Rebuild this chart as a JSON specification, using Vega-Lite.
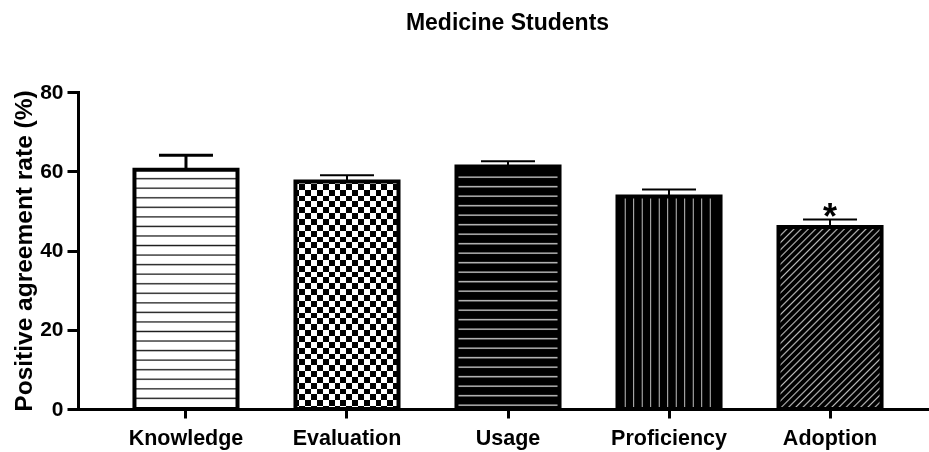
{
  "$schema": "https://vega.github.io/schema/vega-lite/v6.json",
  "width": 849,
  "height": 317,
  "autosize": {"type": "none"},
  "padding": {"left": 78, "top": 92, "right": 2, "bottom": 43},
  "background": "white",
  "config": {"view": {"stroke": null}, "font": "Liberation Sans"},
  "title": {
    "text": "Medicine Students",
    "font": "Liberation Sans",
    "fontSize": 23,
    "fontWeight": "bold",
    "color": "black",
    "anchor": "middle",
    "dx": 5,
    "offset": 46
  },
  "data": {
    "values": [
      {"aspect": "Knowledge", "rate": 60.4, "upper": 64.05, "sig": ""},
      {"aspect": "Evaluation", "rate": 57.4, "upper": 59.0, "sig": ""},
      {"aspect": "Usage", "rate": 61.2, "upper": 62.5, "sig": ""},
      {"aspect": "Proficiency", "rate": 53.6, "upper": 55.4, "sig": ""},
      {"aspect": "Adoption", "rate": 45.9, "upper": 47.8, "sig": "*"}
    ]
  },
  "encoding": {
    "x": {
      "field": "aspect",
      "type": "nominal",
      "sort": null,
      "scale": {"paddingInner": 0.36, "paddingOuter": 0.3165, "align": 0.554},
      "axis": {
        "title": null,
        "labelAngle": 0,
        "labelFont": "Liberation Sans",
        "labelFontSize": 21.5,
        "labelFontWeight": "bold",
        "labelColor": "black",
        "labelPadding": 9,
        "domainColor": "black",
        "domainWidth": 3,
        "domainCap": "square",
        "tickColor": "black",
        "tickWidth": 3,
        "tickSize": 9
      }
    },
    "y": {
      "field": "rate",
      "type": "quantitative",
      "title": "Positive agreement rate (%)",
      "scale": {"domain": [0, 80], "nice": false, "zero": true},
      "axis": {
        "values": [0, 20, 40, 60, 80],
        "grid": false,
        "labelFont": "Liberation Sans",
        "labelFontSize": 21,
        "labelFontWeight": "bold",
        "labelColor": "black",
        "labelPadding": 4,
        "labelFlush": false,
        "labelOverlap": false,
        "domainColor": "black",
        "domainWidth": 3,
        "domainCap": "square",
        "tickColor": "black",
        "tickWidth": 3,
        "tickSize": 11,
        "titleFont": "Liberation Sans",
        "titleFontSize": 24.5,
        "titleFontWeight": "bold",
        "titleColor": "black",
        "titleX": -47,
        "titleY": 158.5,
        "titleAlign": "center",
        "titleBaseline": "alphabetic"
      }
    }
  },
  "layer": [
    {
      "transform": [{"filter": "datum.aspect === 'Knowledge'"}],
      "mark": {
        "type": "bar",
        "stroke": "black",
        "strokeWidth": 4,
        "fill": {
          "gradient": "linear", "x1": 0, "y1": 0, "x2": 0, "y2": 1,
          "stops": [
            {"offset": 0.0321, "color": "#fff"}, {"offset": 0.0376, "color": "#1a1a1a"}, {"offset": 0.0431, "color": "#fff"},
            {"offset": 0.0720, "color": "#fff"}, {"offset": 0.0775, "color": "#1a1a1a"}, {"offset": 0.0830, "color": "#fff"},
            {"offset": 0.1119, "color": "#fff"}, {"offset": 0.1174, "color": "#1a1a1a"}, {"offset": 0.1229, "color": "#fff"},
            {"offset": 0.1518, "color": "#fff"}, {"offset": 0.1573, "color": "#1a1a1a"}, {"offset": 0.1628, "color": "#fff"},
            {"offset": 0.1917, "color": "#fff"}, {"offset": 0.1972, "color": "#1a1a1a"}, {"offset": 0.2027, "color": "#fff"},
            {"offset": 0.2316, "color": "#fff"}, {"offset": 0.2371, "color": "#1a1a1a"}, {"offset": 0.2426, "color": "#fff"},
            {"offset": 0.2715, "color": "#fff"}, {"offset": 0.2770, "color": "#1a1a1a"}, {"offset": 0.2825, "color": "#fff"},
            {"offset": 0.3115, "color": "#fff"}, {"offset": 0.3170, "color": "#1a1a1a"}, {"offset": 0.3225, "color": "#fff"},
            {"offset": 0.3514, "color": "#fff"}, {"offset": 0.3569, "color": "#1a1a1a"}, {"offset": 0.3624, "color": "#fff"},
            {"offset": 0.3913, "color": "#fff"}, {"offset": 0.3968, "color": "#1a1a1a"}, {"offset": 0.4023, "color": "#fff"},
            {"offset": 0.4312, "color": "#fff"}, {"offset": 0.4367, "color": "#1a1a1a"}, {"offset": 0.4422, "color": "#fff"},
            {"offset": 0.4711, "color": "#fff"}, {"offset": 0.4766, "color": "#1a1a1a"}, {"offset": 0.4821, "color": "#fff"},
            {"offset": 0.5110, "color": "#fff"}, {"offset": 0.5165, "color": "#1a1a1a"}, {"offset": 0.5220, "color": "#fff"},
            {"offset": 0.5509, "color": "#fff"}, {"offset": 0.5564, "color": "#1a1a1a"}, {"offset": 0.5619, "color": "#fff"},
            {"offset": 0.5908, "color": "#fff"}, {"offset": 0.5963, "color": "#1a1a1a"}, {"offset": 0.6018, "color": "#fff"},
            {"offset": 0.6307, "color": "#fff"}, {"offset": 0.6362, "color": "#1a1a1a"}, {"offset": 0.6417, "color": "#fff"},
            {"offset": 0.6706, "color": "#fff"}, {"offset": 0.6761, "color": "#1a1a1a"}, {"offset": 0.6816, "color": "#fff"},
            {"offset": 0.7105, "color": "#fff"}, {"offset": 0.7160, "color": "#1a1a1a"}, {"offset": 0.7215, "color": "#fff"},
            {"offset": 0.7504, "color": "#fff"}, {"offset": 0.7559, "color": "#1a1a1a"}, {"offset": 0.7614, "color": "#fff"},
            {"offset": 0.7904, "color": "#fff"}, {"offset": 0.7959, "color": "#1a1a1a"}, {"offset": 0.8014, "color": "#fff"},
            {"offset": 0.8303, "color": "#fff"}, {"offset": 0.8358, "color": "#1a1a1a"}, {"offset": 0.8413, "color": "#fff"},
            {"offset": 0.8702, "color": "#fff"}, {"offset": 0.8757, "color": "#1a1a1a"}, {"offset": 0.8812, "color": "#fff"},
            {"offset": 0.9101, "color": "#fff"}, {"offset": 0.9156, "color": "#1a1a1a"}, {"offset": 0.9211, "color": "#fff"},
            {"offset": 0.9500, "color": "#fff"}, {"offset": 0.9555, "color": "#1a1a1a"}, {"offset": 0.9610, "color": "#fff"}
          ]
        }
      }
    },
    {
      "transform": [{"filter": "datum.aspect === 'Evaluation'"}],
      "mark": {
        "type": "bar",
        "fill": {
          "gradient": "linear", "x1": 0, "y1": 0, "x2": 0, "y2": 1,
          "stops": [
            {"offset": 0.0101, "color": "#000"}, {"offset": 0.0101, "color": "#fff"},
            {"offset": 0.0358, "color": "#fff"}, {"offset": 0.0358, "color": "#000"},
            {"offset": 0.0616, "color": "#000"}, {"offset": 0.0616, "color": "#fff"},
            {"offset": 0.0873, "color": "#fff"}, {"offset": 0.0873, "color": "#000"},
            {"offset": 0.1130, "color": "#000"}, {"offset": 0.1130, "color": "#fff"},
            {"offset": 0.1387, "color": "#fff"}, {"offset": 0.1387, "color": "#000"},
            {"offset": 0.1645, "color": "#000"}, {"offset": 0.1645, "color": "#fff"},
            {"offset": 0.1902, "color": "#fff"}, {"offset": 0.1902, "color": "#000"},
            {"offset": 0.2159, "color": "#000"}, {"offset": 0.2159, "color": "#fff"},
            {"offset": 0.2417, "color": "#fff"}, {"offset": 0.2417, "color": "#000"},
            {"offset": 0.2674, "color": "#000"}, {"offset": 0.2674, "color": "#fff"},
            {"offset": 0.2931, "color": "#fff"}, {"offset": 0.2931, "color": "#000"},
            {"offset": 0.3188, "color": "#000"}, {"offset": 0.3188, "color": "#fff"},
            {"offset": 0.3446, "color": "#fff"}, {"offset": 0.3446, "color": "#000"},
            {"offset": 0.3703, "color": "#000"}, {"offset": 0.3703, "color": "#fff"},
            {"offset": 0.3960, "color": "#fff"}, {"offset": 0.3960, "color": "#000"},
            {"offset": 0.4217, "color": "#000"}, {"offset": 0.4217, "color": "#fff"},
            {"offset": 0.4475, "color": "#fff"}, {"offset": 0.4475, "color": "#000"},
            {"offset": 0.4732, "color": "#000"}, {"offset": 0.4732, "color": "#fff"},
            {"offset": 0.4989, "color": "#fff"}, {"offset": 0.4989, "color": "#000"},
            {"offset": 0.5246, "color": "#000"}, {"offset": 0.5246, "color": "#fff"},
            {"offset": 0.5504, "color": "#fff"}, {"offset": 0.5504, "color": "#000"},
            {"offset": 0.5761, "color": "#000"}, {"offset": 0.5761, "color": "#fff"},
            {"offset": 0.6018, "color": "#fff"}, {"offset": 0.6018, "color": "#000"},
            {"offset": 0.6275, "color": "#000"}, {"offset": 0.6275, "color": "#fff"},
            {"offset": 0.6533, "color": "#fff"}, {"offset": 0.6533, "color": "#000"},
            {"offset": 0.6790, "color": "#000"}, {"offset": 0.6790, "color": "#fff"},
            {"offset": 0.7047, "color": "#fff"}, {"offset": 0.7047, "color": "#000"},
            {"offset": 0.7304, "color": "#000"}, {"offset": 0.7304, "color": "#fff"},
            {"offset": 0.7562, "color": "#fff"}, {"offset": 0.7562, "color": "#000"},
            {"offset": 0.7819, "color": "#000"}, {"offset": 0.7819, "color": "#fff"},
            {"offset": 0.8076, "color": "#fff"}, {"offset": 0.8076, "color": "#000"},
            {"offset": 0.8333, "color": "#000"}, {"offset": 0.8333, "color": "#fff"},
            {"offset": 0.8591, "color": "#fff"}, {"offset": 0.8591, "color": "#000"},
            {"offset": 0.8848, "color": "#000"}, {"offset": 0.8848, "color": "#fff"},
            {"offset": 0.9105, "color": "#fff"}, {"offset": 0.9105, "color": "#000"},
            {"offset": 0.9362, "color": "#000"}, {"offset": 0.9362, "color": "#fff"},
            {"offset": 0.9620, "color": "#fff"}, {"offset": 0.9620, "color": "#000"},
            {"offset": 0.9877, "color": "#000"}, {"offset": 0.9877, "color": "#fff"}
          ]
        }
      }
    },
    {
      "transform": [{"filter": "datum.aspect === 'Evaluation'"}],
      "mark": {
        "type": "bar",
        "blend": "difference",
        "fill": {
          "gradient": "linear", "x1": 0, "y1": 0, "x2": 1, "y2": 0,
          "stops": [
            {"offset": 0.0388, "color": "#000"}, {"offset": 0.0388, "color": "#fff"},
            {"offset": 0.0956, "color": "#fff"}, {"offset": 0.0956, "color": "#000"},
            {"offset": 0.1524, "color": "#000"}, {"offset": 0.1524, "color": "#fff"},
            {"offset": 0.2092, "color": "#fff"}, {"offset": 0.2092, "color": "#000"},
            {"offset": 0.2660, "color": "#000"}, {"offset": 0.2660, "color": "#fff"},
            {"offset": 0.3228, "color": "#fff"}, {"offset": 0.3228, "color": "#000"},
            {"offset": 0.3796, "color": "#000"}, {"offset": 0.3796, "color": "#fff"},
            {"offset": 0.4364, "color": "#fff"}, {"offset": 0.4364, "color": "#000"},
            {"offset": 0.4932, "color": "#000"}, {"offset": 0.4932, "color": "#fff"},
            {"offset": 0.5500, "color": "#fff"}, {"offset": 0.5500, "color": "#000"},
            {"offset": 0.6068, "color": "#000"}, {"offset": 0.6068, "color": "#fff"},
            {"offset": 0.6636, "color": "#fff"}, {"offset": 0.6636, "color": "#000"},
            {"offset": 0.7204, "color": "#000"}, {"offset": 0.7204, "color": "#fff"},
            {"offset": 0.7772, "color": "#fff"}, {"offset": 0.7772, "color": "#000"},
            {"offset": 0.8340, "color": "#000"}, {"offset": 0.8340, "color": "#fff"},
            {"offset": 0.8908, "color": "#fff"}, {"offset": 0.8908, "color": "#000"},
            {"offset": 0.9476, "color": "#000"}, {"offset": 0.9476, "color": "#fff"}
          ]
        }
      }
    },
    {
      "transform": [{"filter": "datum.aspect === 'Evaluation'"}],
      "mark": {"type": "bar", "fill": "transparent", "stroke": "black", "strokeWidth": 4}
    },
    {
      "transform": [{"filter": "datum.aspect === 'Usage'"}],
      "mark": {
        "type": "bar",
        "stroke": "black",
        "strokeWidth": 4,
        "fill": {
          "gradient": "linear", "x1": 0, "y1": 0, "x2": 0, "y2": 1,
          "stops": [
            {"offset": 0.0386, "color": "#000"}, {"offset": 0.0441, "color": "#d0d0d0"}, {"offset": 0.0496, "color": "#000"},
            {"offset": 0.0778, "color": "#000"}, {"offset": 0.0833, "color": "#d0d0d0"}, {"offset": 0.0888, "color": "#000"},
            {"offset": 0.1170, "color": "#000"}, {"offset": 0.1225, "color": "#d0d0d0"}, {"offset": 0.1280, "color": "#000"},
            {"offset": 0.1562, "color": "#000"}, {"offset": 0.1617, "color": "#d0d0d0"}, {"offset": 0.1672, "color": "#000"},
            {"offset": 0.1953, "color": "#000"}, {"offset": 0.2008, "color": "#d0d0d0"}, {"offset": 0.2063, "color": "#000"},
            {"offset": 0.2345, "color": "#000"}, {"offset": 0.2400, "color": "#d0d0d0"}, {"offset": 0.2455, "color": "#000"},
            {"offset": 0.2737, "color": "#000"}, {"offset": 0.2792, "color": "#d0d0d0"}, {"offset": 0.2847, "color": "#000"},
            {"offset": 0.3129, "color": "#000"}, {"offset": 0.3184, "color": "#d0d0d0"}, {"offset": 0.3239, "color": "#000"},
            {"offset": 0.3520, "color": "#000"}, {"offset": 0.3575, "color": "#d0d0d0"}, {"offset": 0.3630, "color": "#000"},
            {"offset": 0.3912, "color": "#000"}, {"offset": 0.3967, "color": "#d0d0d0"}, {"offset": 0.4022, "color": "#000"},
            {"offset": 0.4304, "color": "#000"}, {"offset": 0.4359, "color": "#d0d0d0"}, {"offset": 0.4414, "color": "#000"},
            {"offset": 0.4695, "color": "#000"}, {"offset": 0.4750, "color": "#d0d0d0"}, {"offset": 0.4805, "color": "#000"},
            {"offset": 0.5087, "color": "#000"}, {"offset": 0.5142, "color": "#d0d0d0"}, {"offset": 0.5197, "color": "#000"},
            {"offset": 0.5479, "color": "#000"}, {"offset": 0.5534, "color": "#d0d0d0"}, {"offset": 0.5589, "color": "#000"},
            {"offset": 0.5871, "color": "#000"}, {"offset": 0.5926, "color": "#d0d0d0"}, {"offset": 0.5981, "color": "#000"},
            {"offset": 0.6262, "color": "#000"}, {"offset": 0.6317, "color": "#d0d0d0"}, {"offset": 0.6372, "color": "#000"},
            {"offset": 0.6654, "color": "#000"}, {"offset": 0.6709, "color": "#d0d0d0"}, {"offset": 0.6764, "color": "#000"},
            {"offset": 0.7046, "color": "#000"}, {"offset": 0.7101, "color": "#d0d0d0"}, {"offset": 0.7156, "color": "#000"},
            {"offset": 0.7438, "color": "#000"}, {"offset": 0.7493, "color": "#d0d0d0"}, {"offset": 0.7548, "color": "#000"},
            {"offset": 0.7829, "color": "#000"}, {"offset": 0.7884, "color": "#d0d0d0"}, {"offset": 0.7939, "color": "#000"},
            {"offset": 0.8221, "color": "#000"}, {"offset": 0.8276, "color": "#d0d0d0"}, {"offset": 0.8331, "color": "#000"},
            {"offset": 0.8613, "color": "#000"}, {"offset": 0.8668, "color": "#d0d0d0"}, {"offset": 0.8723, "color": "#000"},
            {"offset": 0.9005, "color": "#000"}, {"offset": 0.9060, "color": "#d0d0d0"}, {"offset": 0.9115, "color": "#000"},
            {"offset": 0.9397, "color": "#000"}, {"offset": 0.9452, "color": "#d0d0d0"}, {"offset": 0.9507, "color": "#000"},
            {"offset": 0.9788, "color": "#000"}, {"offset": 0.9843, "color": "#d0d0d0"}, {"offset": 0.9898, "color": "#000"}
          ]
        }
      }
    },
    {
      "transform": [{"filter": "datum.aspect === 'Proficiency'"}],
      "mark": {
        "type": "bar",
        "stroke": "black",
        "strokeWidth": 4,
        "fill": {
          "gradient": "linear", "x1": 0, "y1": 0, "x2": 1, "y2": 0,
          "stops": [
            {"offset": 0.0658, "color": "#000"}, {"offset": 0.0748, "color": "#d0d0d0"}, {"offset": 0.0838, "color": "#000"},
            {"offset": 0.1483, "color": "#000"}, {"offset": 0.1573, "color": "#d0d0d0"}, {"offset": 0.1663, "color": "#000"},
            {"offset": 0.2308, "color": "#000"}, {"offset": 0.2398, "color": "#d0d0d0"}, {"offset": 0.2488, "color": "#000"},
            {"offset": 0.3133, "color": "#000"}, {"offset": 0.3223, "color": "#d0d0d0"}, {"offset": 0.3313, "color": "#000"},
            {"offset": 0.3959, "color": "#000"}, {"offset": 0.4049, "color": "#d0d0d0"}, {"offset": 0.4139, "color": "#000"},
            {"offset": 0.4784, "color": "#000"}, {"offset": 0.4874, "color": "#d0d0d0"}, {"offset": 0.4964, "color": "#000"},
            {"offset": 0.5609, "color": "#000"}, {"offset": 0.5699, "color": "#d0d0d0"}, {"offset": 0.5789, "color": "#000"},
            {"offset": 0.6434, "color": "#000"}, {"offset": 0.6524, "color": "#d0d0d0"}, {"offset": 0.6614, "color": "#000"},
            {"offset": 0.7260, "color": "#000"}, {"offset": 0.7350, "color": "#d0d0d0"}, {"offset": 0.7440, "color": "#000"},
            {"offset": 0.8085, "color": "#000"}, {"offset": 0.8175, "color": "#d0d0d0"}, {"offset": 0.8265, "color": "#000"},
            {"offset": 0.8910, "color": "#000"}, {"offset": 0.9000, "color": "#d0d0d0"}, {"offset": 0.9090, "color": "#000"}
          ]
        }
      }
    },
    {
      "transform": [{"filter": "datum.aspect === 'Adoption'"}],
      "mark": {
        "type": "bar",
        "stroke": "black",
        "strokeWidth": 4,
        "fill": {
          "gradient": "linear", "x1": 0, "y1": 0, "x2": 0.6716, "y2": 1.186,
          "stops": [
            {"offset": 0.0049, "color": "#000"}, {"offset": 0.0105, "color": "#b8b8b8"}, {"offset": 0.0161, "color": "#000"},
            {"offset": 0.0302, "color": "#000"}, {"offset": 0.0358, "color": "#b8b8b8"}, {"offset": 0.0414, "color": "#000"},
            {"offset": 0.0555, "color": "#000"}, {"offset": 0.0611, "color": "#b8b8b8"}, {"offset": 0.0667, "color": "#000"},
            {"offset": 0.0807, "color": "#000"}, {"offset": 0.0863, "color": "#b8b8b8"}, {"offset": 0.0919, "color": "#000"},
            {"offset": 0.1060, "color": "#000"}, {"offset": 0.1116, "color": "#b8b8b8"}, {"offset": 0.1172, "color": "#000"},
            {"offset": 0.1313, "color": "#000"}, {"offset": 0.1369, "color": "#b8b8b8"}, {"offset": 0.1425, "color": "#000"},
            {"offset": 0.1565, "color": "#000"}, {"offset": 0.1621, "color": "#b8b8b8"}, {"offset": 0.1677, "color": "#000"},
            {"offset": 0.1818, "color": "#000"}, {"offset": 0.1874, "color": "#b8b8b8"}, {"offset": 0.1930, "color": "#000"},
            {"offset": 0.2071, "color": "#000"}, {"offset": 0.2127, "color": "#b8b8b8"}, {"offset": 0.2183, "color": "#000"},
            {"offset": 0.2323, "color": "#000"}, {"offset": 0.2379, "color": "#b8b8b8"}, {"offset": 0.2435, "color": "#000"},
            {"offset": 0.2576, "color": "#000"}, {"offset": 0.2632, "color": "#b8b8b8"}, {"offset": 0.2688, "color": "#000"},
            {"offset": 0.2829, "color": "#000"}, {"offset": 0.2885, "color": "#b8b8b8"}, {"offset": 0.2941, "color": "#000"},
            {"offset": 0.3082, "color": "#000"}, {"offset": 0.3138, "color": "#b8b8b8"}, {"offset": 0.3194, "color": "#000"},
            {"offset": 0.3334, "color": "#000"}, {"offset": 0.3390, "color": "#b8b8b8"}, {"offset": 0.3446, "color": "#000"},
            {"offset": 0.3587, "color": "#000"}, {"offset": 0.3643, "color": "#b8b8b8"}, {"offset": 0.3699, "color": "#000"},
            {"offset": 0.3840, "color": "#000"}, {"offset": 0.3896, "color": "#b8b8b8"}, {"offset": 0.3952, "color": "#000"},
            {"offset": 0.4092, "color": "#000"}, {"offset": 0.4148, "color": "#b8b8b8"}, {"offset": 0.4204, "color": "#000"},
            {"offset": 0.4345, "color": "#000"}, {"offset": 0.4401, "color": "#b8b8b8"}, {"offset": 0.4457, "color": "#000"},
            {"offset": 0.4598, "color": "#000"}, {"offset": 0.4654, "color": "#b8b8b8"}, {"offset": 0.4710, "color": "#000"},
            {"offset": 0.4851, "color": "#000"}, {"offset": 0.4907, "color": "#b8b8b8"}, {"offset": 0.4963, "color": "#000"},
            {"offset": 0.5103, "color": "#000"}, {"offset": 0.5159, "color": "#b8b8b8"}, {"offset": 0.5215, "color": "#000"},
            {"offset": 0.5356, "color": "#000"}, {"offset": 0.5412, "color": "#b8b8b8"}, {"offset": 0.5468, "color": "#000"},
            {"offset": 0.5609, "color": "#000"}, {"offset": 0.5665, "color": "#b8b8b8"}, {"offset": 0.5721, "color": "#000"},
            {"offset": 0.5861, "color": "#000"}, {"offset": 0.5917, "color": "#b8b8b8"}, {"offset": 0.5973, "color": "#000"},
            {"offset": 0.6114, "color": "#000"}, {"offset": 0.6170, "color": "#b8b8b8"}, {"offset": 0.6226, "color": "#000"},
            {"offset": 0.6367, "color": "#000"}, {"offset": 0.6423, "color": "#b8b8b8"}, {"offset": 0.6479, "color": "#000"},
            {"offset": 0.6620, "color": "#000"}, {"offset": 0.6676, "color": "#b8b8b8"}, {"offset": 0.6732, "color": "#000"},
            {"offset": 0.6872, "color": "#000"}, {"offset": 0.6928, "color": "#b8b8b8"}, {"offset": 0.6984, "color": "#000"},
            {"offset": 0.7125, "color": "#000"}, {"offset": 0.7181, "color": "#b8b8b8"}, {"offset": 0.7237, "color": "#000"},
            {"offset": 0.7378, "color": "#000"}, {"offset": 0.7434, "color": "#b8b8b8"}, {"offset": 0.7490, "color": "#000"},
            {"offset": 0.7630, "color": "#000"}, {"offset": 0.7686, "color": "#b8b8b8"}, {"offset": 0.7742, "color": "#000"},
            {"offset": 0.7883, "color": "#000"}, {"offset": 0.7939, "color": "#b8b8b8"}, {"offset": 0.7995, "color": "#000"},
            {"offset": 0.8136, "color": "#000"}, {"offset": 0.8192, "color": "#b8b8b8"}, {"offset": 0.8248, "color": "#000"},
            {"offset": 0.8389, "color": "#000"}, {"offset": 0.8445, "color": "#b8b8b8"}, {"offset": 0.8501, "color": "#000"},
            {"offset": 0.8641, "color": "#000"}, {"offset": 0.8697, "color": "#b8b8b8"}, {"offset": 0.8753, "color": "#000"},
            {"offset": 0.8894, "color": "#000"}, {"offset": 0.8950, "color": "#b8b8b8"}, {"offset": 0.9006, "color": "#000"},
            {"offset": 0.9147, "color": "#000"}, {"offset": 0.9203, "color": "#b8b8b8"}, {"offset": 0.9259, "color": "#000"},
            {"offset": 0.9399, "color": "#000"}, {"offset": 0.9455, "color": "#b8b8b8"}, {"offset": 0.9511, "color": "#000"},
            {"offset": 0.9652, "color": "#000"}, {"offset": 0.9708, "color": "#b8b8b8"}, {"offset": 0.9764, "color": "#000"},
            {"offset": 0.9905, "color": "#000"}, {"offset": 0.9961, "color": "#b8b8b8"}, {"offset": 1.0, "color": "#000"}
          ]
        }
      }
    },
    {
      "mark": {"type": "rule", "color": "black"},
      "encoding": {
        "y2": {"field": "upper"},
        "strokeWidth": {"condition": {"test": "datum.aspect === 'Knowledge'", "value": 3}, "value": 2}
      }
    },
    {
      "transform": [{"filter": "datum.aspect === 'Knowledge'"}],
      "mark": {"type": "tick", "orient": "horizontal", "color": "black", "opacity": 1, "size": 54, "thickness": 3},
      "encoding": {
        "y": {"field": "upper", "type": "quantitative", "title": "Positive agreement rate (%)"}
      }
    },
    {
      "transform": [{"filter": "datum.aspect !== 'Knowledge'"}],
      "mark": {"type": "tick", "orient": "horizontal", "color": "black", "opacity": 1, "size": 54, "thickness": 2},
      "encoding": {
        "y": {"field": "upper", "type": "quantitative", "title": "Positive agreement rate (%)"}
      }
    },
    {
      "transform": [{"filter": "datum.sig !== ''"}],
      "mark": {"type": "text", "font": "Liberation Sans", "fontSize": 36, "fontWeight": "bold", "color": "black", "baseline": "alphabetic", "align": "center", "dy": 9},
      "encoding": {
        "y": {"field": "upper", "type": "quantitative", "title": "Positive agreement rate (%)"},
        "text": {"field": "sig"}
      }
    }
  ]
}
